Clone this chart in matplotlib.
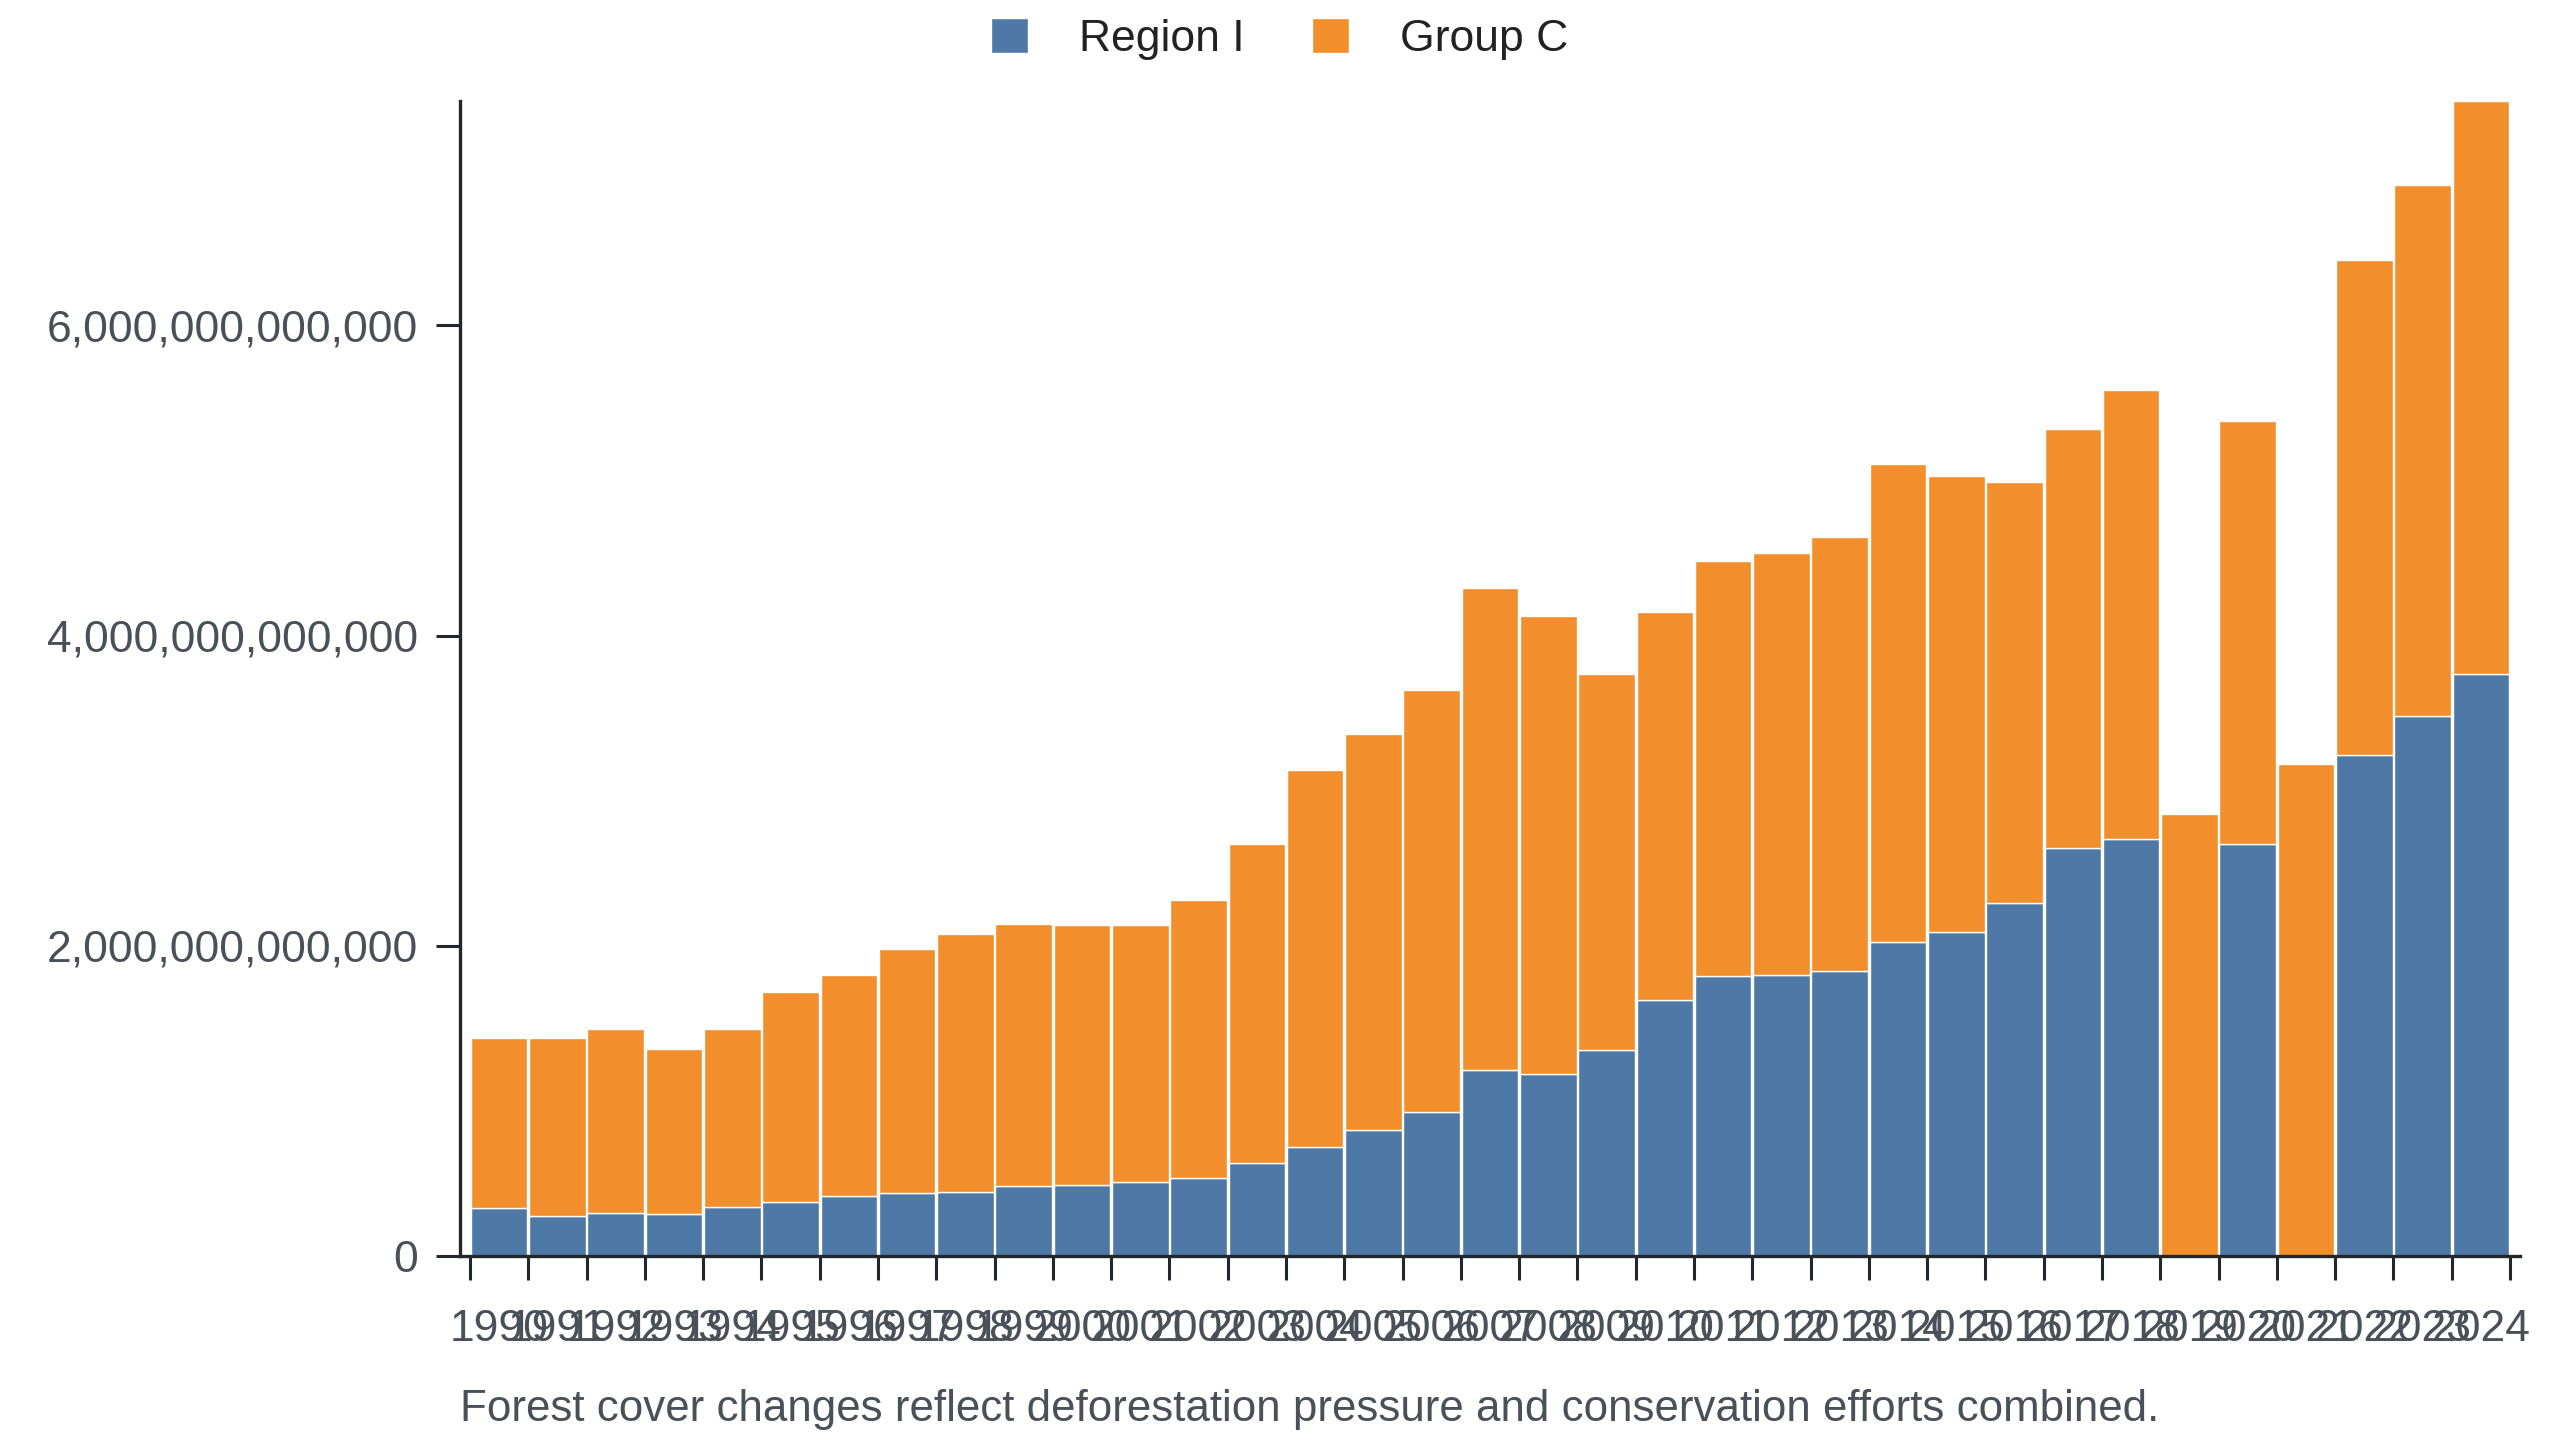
import matplotlib
matplotlib.use("Agg")
import matplotlib.pyplot as plt
import numpy as np

# values in trillions
years = list(range(1990, 2025))
region_i = [0.310, 0.260, 0.278, 0.272, 0.316, 0.348, 0.389, 0.406, 0.415, 0.450,
            0.459, 0.479, 0.505, 0.599, 0.701, 0.812, 0.929, 1.200, 1.175, 1.325,
            1.652, 1.802, 1.811, 1.835, 2.023, 2.086, 2.274, 2.630, 2.688, np.nan,
            2.659, np.nan, 3.228, 3.484, 3.749]
group_c = [1.096, 1.143, 1.183, 1.060, 1.145, 1.355, 1.420, 1.572, 1.659, 1.691,
           1.674, 1.654, 1.791, 2.060, 2.431, 2.554, 2.723, 3.108, 2.950, 2.428,
           2.501, 2.679, 2.718, 2.800, 3.084, 2.945, 2.713, 2.700, 2.897, 2.852,
           2.724, 3.175, 3.191, 3.421, 3.697]
series_names = ["Region I", "Group C"]
colors = ["#4e79a7", "#f28e2c"]
footer = "Forest cover changes reflect deforestation pressure and conservation efforts combined."

plt.rcParams['font.family'] = ['Liberation Sans', 'DejaVu Sans']
plt.rcParams['font.size'] = 16

ink = "#23272b"
label_col = "#4a5058"

region = np.array(region_i) * 1e12
group = np.array(group_c) * 1e12
bottom = np.nan_to_num(region)
totals = bottom + group

fig = plt.figure(figsize=(12.8, 7.2), dpi=200)
ax = fig.add_axes([460 / 2560, 1 - 1256 / 1440, 2060 / 2560, 1155 / 1440])

x = np.arange(len(years)) + 0.5
ax.bar(x, region, width=0.97, color=colors[0], edgecolor="white", linewidth=0.5, label=series_names[0])
ax.bar(x, group, width=0.97, bottom=bottom, color=colors[1], edgecolor="white", linewidth=0.5, label=series_names[1])

ax.set_xlim(-0.1715, len(years) + 0.1715)
ax.set_ylim(0, totals.max())

# ticks on bar edges, labels under bar centres
ax.set_xticks(np.arange(len(years) + 1))
ax.set_xticklabels([])
ax.set_xticks(x, minor=True)
ax.set_xticklabels([str(y) for y in years], minor=True)
ax.tick_params(axis="x", which="major", length=8.6, width=1.1, color=ink)
ax.tick_params(axis="x", which="minor", length=0, pad=19, labelsize=16, labelcolor=label_col)

ax.set_yticks([0, 2e12, 4e12, 6e12])
ax.set_yticklabels([f"{v:,.0f}" for v in [0, 2e12, 4e12, 6e12]])
ax.tick_params(axis="y", length=8.6, width=1.1, color=ink, pad=6.5, labelsize=16, labelcolor=label_col)

for s in ["top", "right"]:
    ax.spines[s].set_visible(False)
for s in ["left", "bottom"]:
    ax.spines[s].set_color(ink)
    ax.spines[s].set_linewidth(1.2)

fig.legend(loc="center", bbox_to_anchor=(0.5, 1 - 39 / 1440), ncol=2, frameon=False,
           handlelength=0.82, handleheight=0.82, handletextpad=1.16, columnspacing=1.52,
           fontsize=16, labelcolor="#222222")

fig.text(460 / 2560, 1 - 1409 / 1440, footer, ha="left", va="center", fontsize=15.8, color=label_col)

fig.savefig("out.png", dpi=200)
